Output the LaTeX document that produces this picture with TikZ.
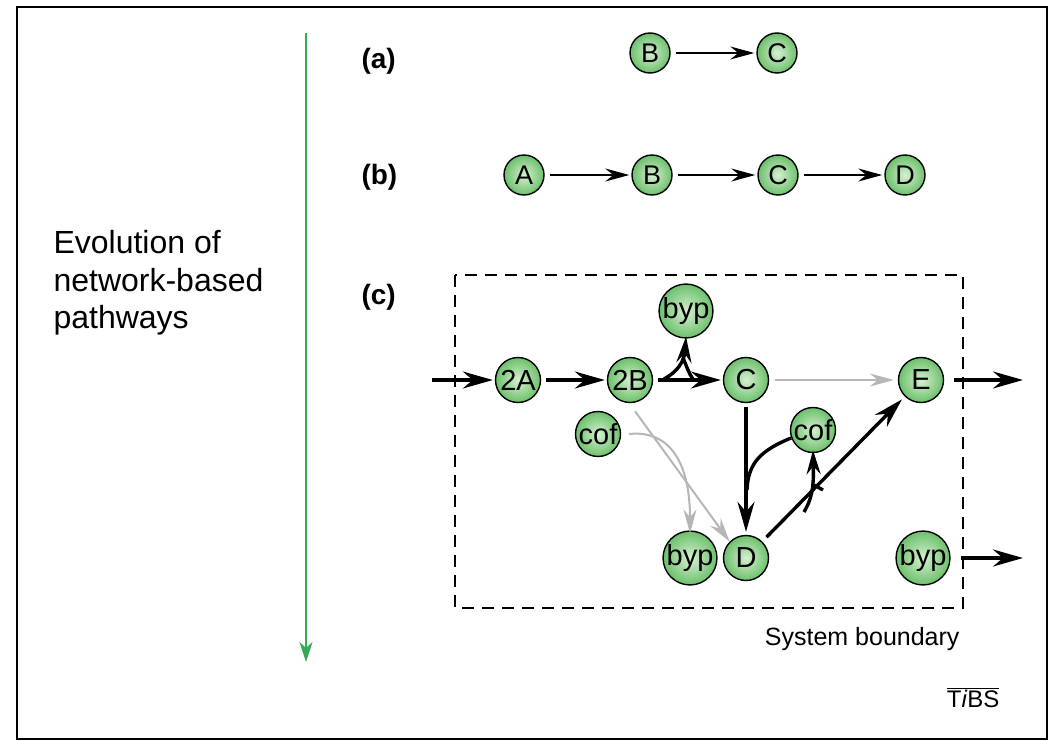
\documentclass[tikz,border=0pt]{standalone}
\usepackage{fontspec}
\setmainfont{Liberation Sans}
\usetikzlibrary{arrows.meta,calc}

\definecolor{molin}{RGB}{214,240,208}
\definecolor{molout}{RGB}{108,192,108}
\definecolor{evogreen}{RGB}{52,170,84}
\definecolor{sidegray}{RGB}{182,182,182}

\tikzset{
  mol/.style={circle, draw=black, line width=1.4pt, inner sep=0pt,
    minimum size=45pt, inner color=molin, outer color=molout,
    font=\fontsize{29}{29}\selectfont},
  molsm/.style={mol, minimum size=40pt, font=\fontsize{27}{27}\selectfont},
  thinarrow/.style={line width=1.8pt,
    -{Stealth[length=24pt,width=13pt,inset=8pt]}},
  thickline/.style={line width=3.4pt},
  thickarrow/.style={thickline,
    -{Stealth[length=30pt,width=17pt,inset=10pt]}},
  grayarrow/.style={draw=sidegray, line width=2pt,
    -{Stealth[length=24pt,width=13pt,inset=8pt,sidegray]}},
  lbl/.style={font=\fontsize{28}{28}\selectfont\bfseries, anchor=base west},
  plain/.style={font=\fontsize{32}{32}\selectfont, anchor=base west}
}

\begin{document}
\begin{tikzpicture}[x=1pt,y=-1pt]
\useasboundingbox (0,0) rectangle (1049,741);
\fill[white] (0,0) rectangle (1049,741);

% outer frame
\draw[line width=1.6pt] (17,7) rectangle (1047,739);

% evolution axis
\node[plain] (evo1) at (50,253) {Evolution of};
\node[plain] (evo2) at (50,291) {network-based};
\node[plain] (evo3) at (50,328) {pathways};
\coordinate (axtop) at (306,33);
\coordinate (axbot) at (306,662);
\draw[evogreen, line width=2pt,
  -{Stealth[length=20pt,width=13pt,inset=6pt]}] (axtop) -- (axbot);

% panel labels
\node[lbl] (la) at (358,69) {(a)};
\node[lbl] (lb) at (358,184) {(b)};
\node[lbl] (lc) at (358,304) {(c)};

% (a) two-step pathway
\node[molsm] (aB) at (650,53) {B};
\node[molsm] (aC) at (777,53) {C};
\draw[thinarrow, shorten <=5pt, shorten >=2pt] (aB) -- (aC);

% (b) linear pathway
\node[molsm] (bA) at (524,175) {A};
\node[molsm] (bB) at (652,175) {B};
\node[molsm] (bC) at (778,175) {C};
\node[molsm] (bD) at (905,175) {D};
\draw[thinarrow, shorten <=5pt, shorten >=2pt] (bA) -- (bB);
\draw[thinarrow, shorten <=5pt, shorten >=2pt] (bB) -- (bC);
\draw[thinarrow, shorten <=5pt, shorten >=2pt] (bC) -- (bD);

% (c) network inside the system boundary
\draw[line width=1.8pt, dash pattern=on 12pt off 8pt] (455,275) rectangle (963,608);
\node[font=\fontsize{25}{25}\selectfont, anchor=base east] (sysb) at (963,645) {System boundary};

\node[mol] (n2A) at (518,380) {2A};
\node[mol] (n2B) at (630,380) {2B};
\node[mol] (nC)  at (746,380) {C};
\node[mol] (nE)  at (921,380) {E};
\node[mol] (byp1) at (686,311) {byp};
\node[mol] (cof1) at (598,434) {cof};
\node[mol] (cof2) at (813,430) {cof};
\node[mol] (byp2) at (690,558) {byp};
\node[mol] (nD)  at (746,558) {D};
\node[mol] (byp3) at (923,558) {byp};

\coordinate (inflow) at (432,380);
\coordinate (outE) at (1023,380);
\coordinate (outbyp) at (1023,558);

% main flux
\draw[thickarrow, shorten >=2pt] (inflow) -- (n2A);
\draw[thickarrow, shorten <=5pt, shorten >=2pt] (n2A) -- (n2B);
\draw[thickarrow, shorten <=5pt, shorten >=2pt] (n2B) -- (nC);
\draw[thickarrow, shorten <=4pt, shorten >=3pt] (nC) -- (nD);
\draw[thickarrow, shorten <=6pt, shorten >=4pt] (nD) -- (nE);
\draw[thickarrow, shorten <=10pt] (nE) -- (outE);
\draw[thickarrow, shorten <=10pt] (byp3) -- (outbyp);

% side product leaving 2B -> C
\coordinate (br1) at (664,379);
\coordinate (br1r) at (693,379);
\draw[thickline, -{Stealth[length=26pt,width=15pt,inset=9pt]}]
  (br1) .. controls (677,372) and (684,362) .. ([yshift=2pt]byp1.south);
\draw[thickline] (683,358) .. controls (687,367) and (689,374) .. (br1r);

% cofactor consumed on C -> D
\coordinate (mergeCD) at (747,490);
\draw[thickline] (cof2.200) .. controls (762,450) and (748,462) .. (mergeCD);

% cofactor released on D -> E
\coordinate (br2) at (804,512);
\coordinate (br2r) at (823,490);
\draw[thickline, -{Stealth[length=24pt,width=14pt,inset=8pt]}]
  (br2) .. controls (811,500) and (814,490) .. ([yshift=3pt]cof2.south);
\draw[thickline] (814,485) -- (br2r);

% minor fluxes
\draw[grayarrow, shorten <=6pt, shorten >=4pt] (nC) -- (nE);
\draw[grayarrow] ([shift={(5,8)}]n2B.south) -- (nD.north west);
\draw[grayarrow] ([xshift=8pt]cof1.east) .. controls (668,430) and (690,460) .. ([yshift=-3pt]byp2.north);

% journal mark
\node[font=\fontsize{24}{24}\selectfont, anchor=base east] (tibs) at (1003,707)
  {$\overline{\mbox{T\textit{i}BS}}$};
\end{tikzpicture}
\end{document}
